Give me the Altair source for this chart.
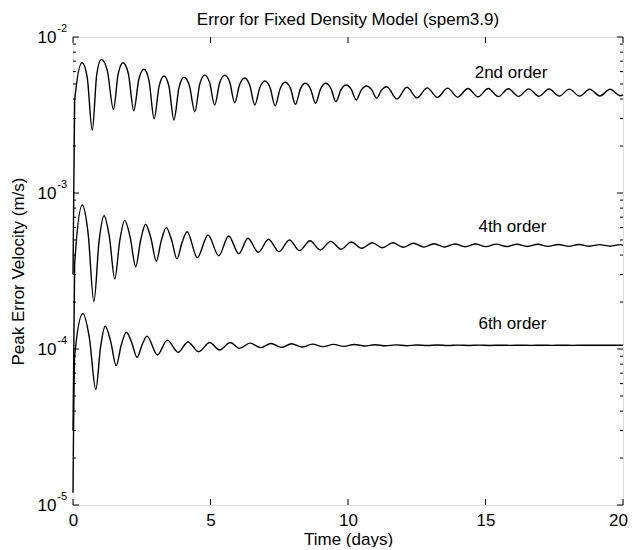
import altair as alt
import pandas as pd

W, H = 550, 468
FONT = "Liberation Sans"

# ---- 2nd order (days, m/s) ----
t2 = [0, 0.06, 0.33, 0.515, 0.70, 0.865, 1.03, 1.25, 1.47, 1.645, 1.82, 2.015, 2.21, 2.395,
      2.58, 2.765, 2.95, 3.13, 3.31, 3.49, 3.67, 3.855, 4.04, 4.235, 4.43, 4.61, 4.79, 4.97,
      5.15, 5.335, 5.52, 5.70, 5.88, 6.06, 6.24, 6.425, 6.61, 6.795, 6.98, 7.165, 7.35, 7.535,
      7.72, 7.905, 8.09, 8.27, 8.45, 8.635, 8.82, 9.005, 9.19, 9.375, 9.56, 9.745, 9.93, 10.115,
      10.30, 10.485, 10.67, 10.855, 11.04, 11.225, 11.41,
      11.78, 12.14, 12.51, 12.88, 13.25, 13.62, 13.99, 14.36, 14.73, 15.10, 15.47, 15.83,
      16.20, 16.57, 16.94, 17.31, 17.68, 18.05, 18.42, 18.79, 19.16, 19.53, 19.90, 20.0]
v2 = [3.0e-4, 3.9e-3, 6.84e-3, 5.55e-3, 2.53e-3, 5.79e-3, 7.19e-3, 6.07e-3, 3.44e-3, 5.82e-3,
      6.84e-3, 5.80e-3, 3.37e-3, 5.36e-3, 6.21e-3, 5.24e-3, 2.99e-3, 4.83e-3, 5.62e-3, 4.82e-3,
      2.94e-3, 4.75e-3, 5.52e-3, 4.86e-3, 3.32e-3, 4.99e-3, 5.70e-3, 5.09e-3, 3.66e-3, 5.09e-3,
      5.70e-3, 5.13e-3, 3.79e-3, 4.96e-3, 5.46e-3, 4.92e-3, 3.66e-3, 4.75e-3, 5.22e-3, 4.74e-3,
      3.62e-3, 4.68e-3, 5.13e-3, 4.70e-3, 3.70e-3, 4.65e-3, 5.05e-3, 4.66e-3, 3.76e-3, 4.66e-3,
      5.05e-3, 4.69e-3, 3.85e-3, 4.60e-3, 4.92e-3, 4.63e-3, 3.95e-3, 4.58e-3, 4.85e-3, 4.61e-3,
      4.05e-3, 4.58e-3, 4.80e-3,
      4.00e-3, 4.76e-3, 4.08e-3, 4.72e-3, 4.10e-3, 4.70e-3, 4.12e-3, 4.68e-3, 4.14e-3, 4.68e-3,
      4.15e-3, 4.66e-3, 4.16e-3, 4.65e-3, 4.17e-3, 4.64e-3, 4.18e-3, 4.63e-3, 4.18e-3, 4.62e-3,
      4.19e-3, 4.62e-3, 4.20e-3, 4.25e-3]

# ---- 4th order ----
t4 = [0, 0.06, 0.34, 0.55, 0.76, 0.945, 1.13, 1.325, 1.52, 1.70, 1.88, 2.08, 2.28, 2.46,
      2.64, 2.835, 3.03, 3.21, 3.39, 3.585, 3.78, 3.965, 4.15, 4.52,
      4.91, 5.30, 5.66, 6.03, 6.36, 6.74, 7.11, 7.49, 7.87, 8.24, 8.62, 8.99, 9.37, 9.75,
      10.12, 10.50, 10.88, 11.25, 11.63, 12.00, 12.38, 12.76, 13.13, 13.51, 13.89, 14.26,
      14.64, 15.01, 15.39, 15.77, 16.14, 16.52, 16.90, 17.27, 17.65, 18.02, 18.40, 18.78,
      19.15, 19.53, 19.91, 20.0]
v4 = [3.0e-5, 3.5e-4, 8.38e-4, 5.51e-4, 2.01e-4, 4.84e-4, 7.15e-4, 5.20e-4, 2.81e-4, 4.94e-4,
      6.68e-4, 5.19e-4, 3.37e-4, 4.98e-4, 6.30e-4, 5.11e-4, 3.66e-4, 4.95e-4, 6.00e-4, 5.00e-4,
      3.78e-4, 4.81e-4, 5.65e-4, 3.85e-4,
      5.38e-4, 3.96e-4, 5.30e-4, 4.08e-4, 5.13e-4, 4.17e-4,
      5.05e-4, 4.21e-4, 5.00e-4, 4.27e-4, 4.94e-4, 4.31e-4, 4.90e-4, 4.36e-4, 4.85e-4, 4.42e-4,
      4.80e-4, 4.46e-4, 4.80e-4, 4.49e-4, 4.76e-4, 4.50e-4, 4.73e-4, 4.51e-4, 4.71e-4, 4.52e-4,
      4.71e-4, 4.53e-4, 4.70e-4, 4.54e-4, 4.69e-4, 4.54e-4, 4.69e-4, 4.55e-4, 4.68e-4, 4.55e-4,
      4.68e-4, 4.56e-4, 4.67e-4, 4.56e-4, 4.67e-4, 4.62e-4]

# ---- 6th order ----
t6 = [0, 0.06, 0.36, 0.595, 0.83, 1.00, 1.17, 1.37, 1.57, 1.755, 1.94, 2.135, 2.33, 2.51,
      2.69, 3.07, 3.43, 3.82, 4.18, 4.57,
      4.97, 5.33, 5.72, 6.06, 6.44, 6.82, 7.20, 7.58, 7.95, 8.33, 8.71, 9.09, 9.47, 9.85,
      10.23, 10.61, 10.98, 11.36, 11.74, 12.12, 12.50, 12.88, 13.26, 13.64, 14.01, 14.39,
      14.77, 15.15, 15.53, 15.91, 16.29, 16.67, 17.04, 17.42, 17.80, 18.18, 18.56, 18.94,
      19.32, 19.70, 20.0]
v6 = [1.2e-5, 9.0e-5, 1.69e-4, 1.18e-4, 5.5e-5, 1.02e-4, 1.40e-4, 1.12e-4, 7.82e-5, 1.06e-4,
      1.28e-4, 1.10e-4, 8.85e-5, 1.06e-4, 1.21e-4, 9.16e-5,
      1.14e-4, 9.52e-5, 1.11e-4, 9.61e-5, 1.10e-4, 9.86e-5, 1.10e-4, 1.01e-4, 1.09e-4, 1.02e-4,
      1.085e-4, 1.025e-4, 1.08e-4, 1.03e-4, 1.075e-4, 1.035e-4, 1.07e-4, 1.04e-4, 1.068e-4, 1.045e-4,
      1.065e-4, 1.048e-4, 1.063e-4, 1.05e-4, 1.061e-4, 1.052e-4, 1.060e-4, 1.053e-4, 1.059e-4, 1.054e-4,
      1.059e-4, 1.054e-4, 1.058e-4, 1.055e-4, 1.058e-4, 1.055e-4, 1.058e-4, 1.055e-4, 1.057e-4, 1.055e-4,
      1.057e-4, 1.056e-4, 1.057e-4, 1.056e-4, 1.056e-4]

# ---- annotations ----
ann_text = ["2nd order", "4th order", "6th order"]
ann_t = [15.93, 15.98, 15.98]
ann_v = [5.88e-3, 6.03e-4, 1.45e-4]

# ---- axis ticks ----
x_ticks = [0, 5, 10, 15, 20]
y_major = [1e-2, 1e-3, 1e-4, 1e-5]
y_exp = ["-2", "-3", "-4", "-5"]
minor_mult = [2, 3, 4, 5, 6, 7, 8, 9]
decades = [1e-5, 1e-4, 1e-3]
y_minor = [m * d for d in decades for m in minor_mult]

rows = []
for name, ts, vs in (("2nd", t2, v2), ("4th", t4, v4), ("6th", t6, v6)):
    rows += [{"series": name, "t": a, "v": b} for a, b in zip(ts, vs)]
df = pd.DataFrame(rows)

xs = alt.Scale(domain=[0, 20], nice=False, zero=False)
ys = alt.Scale(type="log", domain=[1e-5, 1e-2], nice=False)

x_axis = alt.Axis(values=x_ticks, ticks=False, domain=False, grid=False, labelFontSize=17,
                  labelFont=FONT, labelPadding=7, labelColor="black", title="Time (days)",
                  titleFont=FONT, titleFontSize=17, titleFontWeight="normal", titlePadding=3,
                  titleColor="black", labelFlush=False,
                  labelOffset=alt.ExprRef(expr="datum.value == 20 ? -5 : 0"))
y_axis = alt.Axis(values=y_major, labelExpr="'10'", ticks=False, domain=False, grid=False,
                  labelFontSize=17, labelFont=FONT, labelPadding=17, labelColor="black",
                  labelFlush=False, title="Peak Error Velocity (m/s)", titleFont=FONT,
                  titleFontSize=17, titleFontWeight="normal", titlePadding=10,
                  titleColor="black")

X = alt.X("t:Q", scale=xs, axis=x_axis)
Y = alt.Y("v:Q", scale=ys, axis=y_axis)

lines = alt.Chart(df).mark_line(color="black", strokeWidth=1.4, interpolate="monotone").encode(
    x=X, y=Y, detail="series:N")

exp_df = pd.DataFrame({"v": y_major, "e": y_exp})
exps = alt.Chart(exp_df).mark_text(align="right", baseline="middle", dy=-8, fontSize=11,
                                   font=FONT, color="black").encode(
    x=alt.value(-6), y=Y, text="e:N")

maj_df = pd.DataFrame({"v": y_major})
min_df = pd.DataFrame({"v": y_minor})
xt_df = pd.DataFrame({"t": x_ticks})


def yticks(d, ln):
    left = alt.Chart(d).mark_rule(color="black", strokeWidth=1).encode(
        x=alt.value(0), x2=alt.value(ln), y=Y)
    right = alt.Chart(d).mark_rule(color="black", strokeWidth=1).encode(
        x=alt.value(W - ln), x2=alt.value(W), y=Y)
    return [left, right]


xb = alt.Chart(xt_df).mark_rule(color="black", strokeWidth=1).encode(
    x=X, y=alt.value(H - 6), y2=alt.value(H))
xtop = alt.Chart(xt_df).mark_rule(color="black", strokeWidth=1).encode(
    x=X, y=alt.value(0), y2=alt.value(6))

ann_df = pd.DataFrame({"t": ann_t, "v": ann_v, "label": ann_text})
ann = alt.Chart(ann_df).mark_text(fontSize=17, font=FONT, color="black", align="center",
                                  baseline="middle").encode(x=X, y=Y, text="label:N")

layers = [lines, exps] + yticks(maj_df, 6) + yticks(min_df, 3) + [xb, xtop, ann]

chart = alt.layer(*layers).properties(
    width=W, height=H,
    title=alt.TitleParams("Error for Fixed Density Model (spem3.9)", fontSize=17, font=FONT,
                          fontWeight="normal", color="black", anchor="middle", offset=-6),
    autosize=alt.AutoSizeParams(type="none"),
    padding={"left": 65, "top": 29, "right": 5, "bottom": 42},
).configure_view(stroke="black", strokeWidth=1).configure(background="white")

chart.save("out.html", embed_options={"renderer": "svg", "actions": False})
